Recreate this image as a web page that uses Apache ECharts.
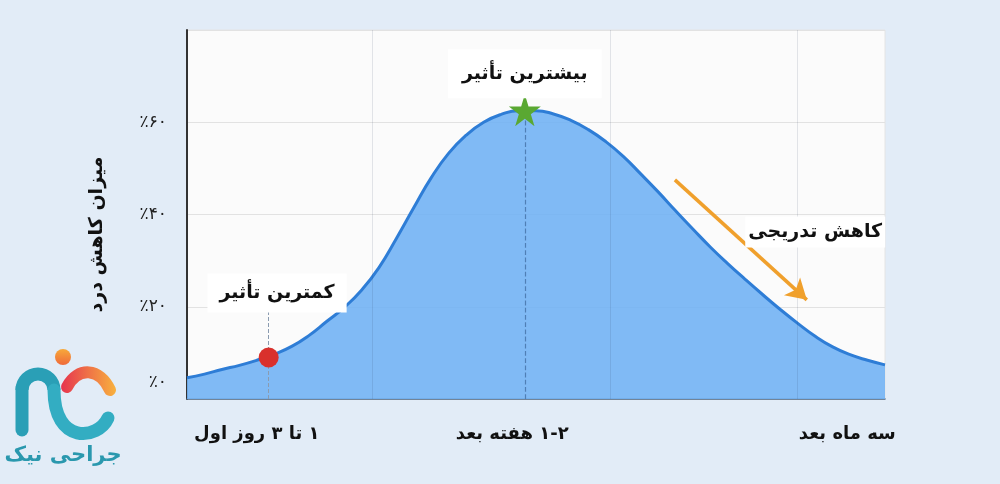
<!DOCTYPE html>
<html>
<head>
<meta charset="utf-8">
<script src="https://cdn.jsdelivr.net/npm/echarts@6/dist/echarts.min.js"></script>
<style>
html,body{margin:0;padding:0;background:#e2ecf7;}
#chart{width:1000px;height:484px;}
</style>
</head>
<body>
<div id="chart" dir="rtl"></div>
<script>
// ---- data ----
const xPos   = [0, 2.5, 5, 7.5, 10, 12.5, 15, 17.5, 20, 22.5, 25, 27.5, 30, 32.5, 35, 37.5, 40, 42.5, 45, 47.5,
                50, 52.5, 55, 57.5, 60, 62.5, 65, 67.5, 70, 72.5, 75, 77.5, 80, 82.5, 85, 87.5, 90, 92.5, 95, 97.5, 100];
const relief = [4.6, 5.4, 6.4, 7.3, 8.4, 9.7, 11.4, 13.8, 16.8, 19.8, 23.6, 28.5, 34.8, 41.5, 48.0, 53.3, 57.2, 60.0, 61.7, 62.5,
                62.5, 61.8, 60.4, 58.4, 55.8, 52.6, 48.8, 44.9, 40.8, 36.8, 32.9, 29.3, 25.9, 22.6, 19.4, 16.4, 13.6, 11.3, 9.6, 8.4, 7.4];
const xLabelPos = [10.0, 46.6, 94.6];
const xLabels   = ['۱ تا ۳ روز اول', '۱-۲ هفته بعد', 'سه ماه بعد'];
const yTickVals = [0, 20, 40, 60];
const yTicks    = ['٪۰', '٪۲۰', '٪۴۰', '٪۶۰'];
const vGrid     = [26.6, 60.6, 87.4];
const minPoint  = [11.7, 9.0];
const maxPoint  = [48.4, 62.6];
const yName     = 'میزان کاهش درد';
const noteMax   = 'بیشترین تأثیر';
const noteMin   = 'کمترین تأثیر';
const noteDrop  = 'کاهش تدریجی';
const logoText  = 'جراحی نیک';

const FONT = '"DejaVu Sans", sans-serif';
const STAR = 'path://M50,0 L61,35 L98,35 L68,57 L79,91 L50,70 L21,91 L32,57 L2,35 L39,35 Z';

const chart = echarts.init(document.getElementById('chart'));

function note(text, coord, pad) {
  return {
    coord: coord, symbol: 'rect', symbolSize: 1,
    itemStyle: {color: 'rgba(0,0,0,0)'},
    label: {
      show: true, position: 'inside', formatter: text,
      fontFamily: FONT, fontSize: 19, fontWeight: 'bold', color: '#111',
      backgroundColor: '#ffffff', padding: pad
    }
  };
}

const option = {
  backgroundColor: '#e2ecf7',
  animation: false,
  textStyle: {fontFamily: FONT},
  grid: {left: 187, right: 115, top: 30, bottom: 85, show: true,
         backgroundColor: '#fbfbfb', borderColor: '#e4e4e4', borderWidth: 1},
  xAxis: {
    type: 'value', min: 0, max: 100,
    splitLine: {show: false}, axisTick: {show: false},
    axisLine: {lineStyle: {color: '#4d6580', width: 1.5}},
    axisLabel: {
      customValues: xLabelPos,
      formatter: v => { const i = xLabelPos.indexOf(v); return i >= 0 ? xLabels[i] : ''; },
      fontFamily: FONT, fontSize: 18, fontWeight: 'bold', color: '#111', margin: 26
    }
  },
  yAxis: {
    type: 'value', min: 0, max: 80, interval: 20,
    axisLine: {show: true, lineStyle: {color: '#333', width: 2}},
    axisTick: {show: false},
    splitLine: {lineStyle: {color: '#e2e2e2'}},
    axisLabel: {
      margin: 20, fontFamily: FONT, fontSize: 17, color: '#222',
      formatter: v => { const i = yTickVals.indexOf(v); if (i < 0) return ''; return v === 0 ? '{z|' + yTicks[i] + '}' : yTicks[i]; },
      rich: {z: {fontFamily: FONT, fontSize: 17, color: '#222', padding: [0, 0, 33, 0]}}
    },
    name: yName, nameLocation: 'middle', nameGap: 80, nameRotate: 90,
    nameTextStyle: {fontFamily: FONT, fontSize: 19, fontWeight: 'bold', color: '#111', padding: [0, 40, 0, 0]}
  },
  series: [
    {
      type: 'line', z: 2,
      data: xPos.map((x, i) => [x, relief[i]]),
      smooth: 0.5, symbol: 'none',
      lineStyle: {color: '#2e7dd6', width: 3},
      areaStyle: {color: 'rgb(114,178,244)', opacity: 0.9}
    },
    {
      type: 'line', z: 3, data: [], silent: true,
      markLine: {
        silent: true, symbol: 'none', label: {show: false},
        lineStyle: {color: 'rgba(40,60,90,0.12)', width: 1, type: 'solid'},
        data: vGrid.map(v => ({xAxis: v}))
          .concat([
            [{coord: [minPoint[0], 0], lineStyle: {color: '#8a9bb0', type: 'dashed', width: 1}},
             {coord: [minPoint[0], 19.5]}],
            [{coord: [maxPoint[0], 0], lineStyle: {color: '#4f7fb5', type: 'dashed', width: 1.2}},
             {coord: [maxPoint[0], maxPoint[1]]}]
          ])
      }
    },
    {
      type: 'line', z: 5, data: [], silent: true,
      markPoint: {
        silent: true,
        data: [
          {coord: maxPoint, symbol: STAR, symbolSize: 32, itemStyle: {color: '#5aa832'}, label: {show: false}},
          {coord: minPoint, symbol: 'circle', symbolSize: 20, itemStyle: {color: '#d9302c'}, label: {show: false}},
          note(noteMax, [48.4, 70.5], [16, 14, 14, 14]),
          note(noteMin, [12.9, 23.0], [10, 12, 10, 12]),
          note(noteDrop, [90.0, 36.2], [6, 3, 6, 3])
        ]
      }
    },
    {
      type: 'line', z: 6, data: [], silent: true,
      markLine: {
        silent: true, label: {show: false},
        data: [
          [{coord: [69.9, 47.5], symbol: 'none',
            lineStyle: {color: '#f0a02c', width: 3.5, type: 'solid', curveness: -0.1}},
           {coord: [88.8, 21.5], symbol: 'arrow', symbolSize: [18, 20]}]
        ]
      }
    }
  ],
  graphic: [
    {type: 'line', shape: {x1: 22, y1: 388, x2: 22, y2: 430}, style: {stroke: '#2a9fb6', lineWidth: 13, lineCap: 'round'}},
    {type: 'arc', shape: {cx: 38, cy: 390, r: 16, startAngle: Math.PI, endAngle: 2 * Math.PI, clockwise: true},
     style: {stroke: '#2a9fb6', lineWidth: 13, fill: null}},
    {type: 'bezierCurve', shape: {x1: 54, y1: 390, x2: 108, y2: 418, cpx1: 54, cpy1: 445, cpx2: 98, cpy2: 440},
     style: {stroke: '#33adc2', lineWidth: 13, lineCap: 'round', fill: null}},
    {type: 'bezierCurve', shape: {x1: 67, y1: 387, x2: 110, y2: 390, cpx1: 78, cpy1: 366, cpx2: 100, cpy2: 368},
     style: {stroke: new echarts.graphic.LinearGradient(0, 0, 1, 0, [{offset: 0, color: '#e6344f'}, {offset: 1, color: '#f8b13e'}]),
             lineWidth: 12, lineCap: 'round', fill: null}},
    {type: 'circle', shape: {cx: 63, cy: 357, r: 8},
     style: {fill: new echarts.graphic.LinearGradient(0, 0, 0, 1, [{offset: 0, color: '#f7a93a'}, {offset: 1, color: '#ef6a3a'}])}},
    {type: 'text', x: 63, y: 456,
     style: {text: logoText, fontFamily: FONT, fontSize: 21, fontWeight: 'bold', fill: '#2a98ae', align: 'center', verticalAlign: 'middle'}}
  ]
};
chart.setOption(option);
</script>
</body>
</html>
